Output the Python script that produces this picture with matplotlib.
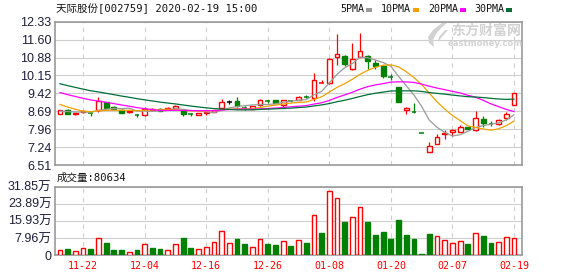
import numpy as np
import matplotlib
matplotlib.use("Agg")
import matplotlib.pyplot as plt
from matplotlib.patches import Rectangle, Polygon

# ---------------- data ----------------
dates = ["11-19", "11-20", "11-21", "11-22", "11-25", "11-26", "11-27", "11-28", "11-29", "12-02",
         "12-03", "12-04", "12-05", "12-06", "12-09", "12-10", "12-11", "12-12", "12-13", "12-16",
         "12-17", "12-18", "12-19", "12-20", "12-23", "12-24", "12-25", "12-26", "12-27", "12-30",
         "12-31", "01-02", "01-03", "01-06", "01-07", "01-08", "01-09", "01-10", "01-13", "01-14",
         "01-15", "01-16", "01-17", "01-20", "01-21", "01-22", "01-23", "02-03", "02-04", "02-05",
         "02-06", "02-07", "02-10", "02-11", "02-12", "02-13", "02-14", "02-17", "02-18", "02-19"]

# closes before the visible window (needed for the moving averages at the left edge)
prior_closes = [10.90, 10.80, 10.75, 10.60, 10.55, 10.50, 10.45, 10.35, 10.20, 10.20,
                10.25, 10.15, 10.10, 10.00, 9.95, 9.90, 9.85, 9.75, 9.70, 9.65,
                9.65, 9.55, 9.42, 8.85, 8.73, 8.70, 8.72, 8.68, 8.67]

opens = [8.60, 8.76, 8.58, 8.65, 8.61, 8.73, 9.07, 8.86, 8.76, 8.66,
         8.54, 8.53, 8.76, 8.80, 8.80, 8.83, 8.76, 8.57, 8.56, 8.62,
         8.67, 8.84, 9.08, 9.10, 8.82, 8.80, 8.93, 9.12, 9.14, 8.93,
         9.12, 9.14, 9.29, 9.24, 9.85, 9.83, 10.89, 10.93, 10.42, 10.89,
         10.95, 10.66, 10.52, 10.09, 9.67, 8.73, 8.67, 7.80, 7.02, 7.35,
         7.76, 7.86, 7.87, 8.05, 7.92, 8.36, 8.20, 8.16, 8.40, 8.96]
highs = [8.75, 8.78, 8.64, 8.70, 8.64, 9.26, 9.08, 8.92, 8.78, 8.74,
         8.58, 8.87, 8.84, 8.82, 8.88, 8.93, 8.78, 8.62, 8.63, 8.68,
         8.76, 9.20, 9.17, 9.26, 8.92, 8.90, 9.19, 9.17, 9.15, 9.17,
         9.16, 9.33, 9.37, 10.24, 9.96, 10.84, 11.82, 10.99, 11.47, 11.87,
         10.97, 10.78, 10.56, 10.22, 9.68, 8.87, 9.03, 7.80, 7.43, 7.76,
         7.92, 7.99, 8.13, 8.06, 8.70, 8.50, 8.28, 8.36, 8.67, 9.43]
lows = [8.58, 8.58, 8.56, 8.63, 8.52, 8.66, 8.82, 8.78, 8.62, 8.63,
        8.47, 8.52, 8.75, 8.69, 8.79, 8.81, 8.52, 8.51, 8.54, 8.55,
        8.65, 8.82, 8.99, 8.88, 8.76, 8.78, 8.92, 9.02, 9.02, 8.85,
        9.08, 9.13, 9.22, 9.12, 9.85, 9.79, 10.59, 10.52, 10.35, 10.89,
        10.42, 10.42, 10.05, 9.98, 9.06, 8.60, 8.62, 7.79, 7.02, 7.35,
        7.56, 7.70, 7.85, 7.96, 7.90, 8.05, 8.10, 8.14, 8.33, 8.96]
closes = [8.73, 8.60, 8.62, 8.69, 8.60, 9.12, 8.84, 8.80, 8.64, 8.70,
          8.53, 8.80, 8.78, 8.71, 8.84, 8.91, 8.60, 8.56, 8.62, 8.65,
          8.73, 9.07, 9.08, 8.90, 8.81, 8.89, 9.13, 9.11, 9.03, 9.13,
          9.11, 9.29, 9.28, 9.97, 9.86, 10.82, 11.03, 10.62, 10.82, 11.15,
          10.72, 10.55, 10.11, 10.08, 9.07, 8.84, 8.66, 7.79, 7.28, 7.63,
          7.82, 7.92, 8.05, 7.96, 8.40, 8.22, 8.19, 8.33, 8.57, 9.43]
volumes = [23000, 28000, 17000, 31000, 28000, 78000, 56000, 23000, 23000, 14000,
           23000, 50000, 33000, 28000, 22000, 50000, 80000, 33000, 27000, 37000,
           59000, 111000, 55000, 75000, 51000, 37000, 73000, 51000, 47000, 64000,
           42000, 69000, 55000, 186000, 103000, 298000, 265000, 154000, 176000, 223000,
           154000, 94000, 108000, 75000, 164000, 94000, 75000, 5000, 98000, 87000,
           69000, 55000, 64000, 51000, 101000, 89000, 56000, 59000, 83000, 80634]

ma_periods = [5, 10, 20, 30]
ma_names = ["5PMA", "10PMA", "20PMA", "30PMA"]

price_tick_labels = ["6.51", "7.24", "7.96", "8.69", "9.42", "10.15", "10.88", "11.60", "12.33"]
vol_tick_labels = ["0", "7.96万", "15.93万", "23.89万", "31.85万"]
title_text = "天际股份[002759] 2020-02-19 15:00"
vol_title = "成交量:80634"

# ---------------- styling ----------------
RED = "#ff0000"
GREEN = "#008000"
ma_colors = ["#9a9a9a", "#f0a000", "#ff00ff", "#006f38"]
GRID = "#cfcfcf"
FRAME = "#9a9a9a"
TICKC = "#1e1e3a"
W, H = 578, 276

mono = ["DejaVu Sans Mono", "Noto Sans CJK SC"]
sans = ["Liberation Sans", "Noto Sans CJK SC"]

def px2pt(p):
    return p * 72 / 100

o = np.array(opens); h = np.array(highs); l = np.array(lows); c = np.array(closes)
v = np.array(volumes, dtype=float)
n = len(c)
x = np.arange(n)
allc = np.array(prior_closes + closes)
npri = len(prior_closes)
prev_close = allc[npri - 1:npri - 1 + n]

fig = plt.figure(figsize=(W / 100, H / 100), dpi=100)
ax = fig.add_axes([55 / W, 1 - 165 / H, 467 / W, 143.3 / H])
axv = fig.add_axes([55 / W, 1 - 255 / H, 467 / W, 68.3 / H])

xlim = (-0.65, n + 0.04)
label_idx = list(range(3, n, 8))

for a in (ax, axv):
    a.set_xlim(*xlim)
    for s in a.spines.values():
        s.set_color(FRAME)
        s.set_linewidth(1.2)
    a.tick_params(length=0)
    a.set_xticks(label_idx)
    a.grid(axis="x", color=GRID, linestyle=(0, (4, 4)), linewidth=0.8, zorder=0)
    a.grid(axis="y", color=GRID, linestyle="-", linewidth=0.8, zorder=0)
    a.set_axisbelow(True)

# ---- price panel ----
ymin, ymax = 6.51, 12.33
ax.set_ylim(ymin, ymax)
ax.set_yticks(np.linspace(ymin, ymax, len(price_tick_labels)))
ax.set_yticklabels(price_tick_labels, family=sans, fontsize=px2pt(12.5), color=TICKC)
ax.tick_params(axis="y", pad=2.5)
ax.set_xticklabels([])

bw = 0.62
for i in range(n):
    if c[i] > o[i]:
        col, fill = RED, "white"
    elif c[i] < o[i]:
        col, fill = GREEN, GREEN
    else:
        col, fill = "black", "black"
    ax.vlines(x[i], l[i], h[i], color=col, linewidth=0.9, zorder=2)
    lo, hi = min(o[i], c[i]), max(o[i], c[i])
    if hi - lo < 0.015:
        ax.hlines((lo + hi) / 2, x[i] - bw / 2, x[i] + bw / 2, color=col, linewidth=1.1, zorder=3)
    else:
        ax.add_patch(Rectangle((x[i] - bw / 2, lo), bw, hi - lo, facecolor=fill,
                               edgecolor=col, linewidth=1.0, zorder=3))

for p, colr in zip(ma_periods, ma_colors):
    ma = np.array([allc[npri + i - p + 1:npri + i + 1].mean() for i in range(n)])
    ax.plot(x, ma, color=colr, linewidth=0.9, zorder=4)

# watermark (logo swoosh + text)
WM = "#d2d2d2"
swoosh = [(447, 23), (442, 23), (433, 30), (428, 37), (429, 43), (434, 47), (433, 40), (436, 34), (441, 28)]
fig.add_artist(Polygon([(px / W, 1 - py / H) for px, py in swoosh], closed=True,
                       transform=fig.transFigure, facecolor=WM, edgecolor="none"))
swoosh2 = [(448, 30), (445, 30), (439, 37), (438, 42), (441, 38)]
fig.add_artist(Polygon([(px / W, 1 - py / H) for px, py in swoosh2], closed=True,
                       transform=fig.transFigure, facecolor=WM, edgecolor="none"))
fig.text(486 / W, 1 - 30.5 / H, "东方财富网", family=["Noto Sans CJK SC"], fontsize=px2pt(14),
         fontweight="bold", color=WM, ha="center", va="center")
fig.text(485 / W, 1 - 43.3 / H, "eastmoney.com", family=["DejaVu Sans"], fontsize=px2pt(8.5),
         fontweight="bold", color=WM, ha="center", va="center")

# ---- volume panel ----
vmax = 318500
axv.set_ylim(0, vmax)
axv.set_yticks(np.linspace(0, vmax, len(vol_tick_labels)))
axv.set_yticklabels(vol_tick_labels, family=sans, fontsize=px2pt(12.5), color=TICKC)
axv.tick_params(axis="y", pad=2.5)
axv.set_xticklabels([dates[i] for i in label_idx], family=mono, fontsize=px2pt(10), color=RED)
axv.tick_params(axis="x", pad=px2pt(6))
vb = 0.62
for i in range(n):
    up = c[i] >= prev_close[i]
    if up:
        axv.add_patch(Rectangle((x[i] - vb / 2, 0), vb, v[i], facecolor="white",
                                edgecolor=RED, linewidth=1.0, zorder=3))
    else:
        axv.add_patch(Rectangle((x[i] - vb / 2, 0), vb, v[i], facecolor=GREEN,
                                edgecolor=GREEN, linewidth=1.0, zorder=3))

# ---- texts ----
fig.text(55.5 / W, 1 - 9 / H, title_text, family=mono, fontsize=px2pt(10.5), color="#111111",
         ha="left", va="center")
fig.text(57 / W, 1 - 177.5 / H, vol_title, family=mono, fontsize=px2pt(10.5), color="#111111",
         ha="left", va="center")

leg_x = [340, 381, 428, 474]
for name, colr, lx in zip(ma_names, ma_colors, leg_x):
    fig.text(lx / W, 1 - 9.5 / H, name, family=mono, fontsize=px2pt(10), color="#111111",
             ha="left", va="center")
    wtxt = 6.02 * len(name)
    fig.add_artist(Rectangle(((lx + wtxt + 2) / W, 1 - 12 / H), 6 / W, 4 / H,
                             transform=fig.transFigure, facecolor=colr, edgecolor="none"))

fig.savefig("out.png", dpi=100)
